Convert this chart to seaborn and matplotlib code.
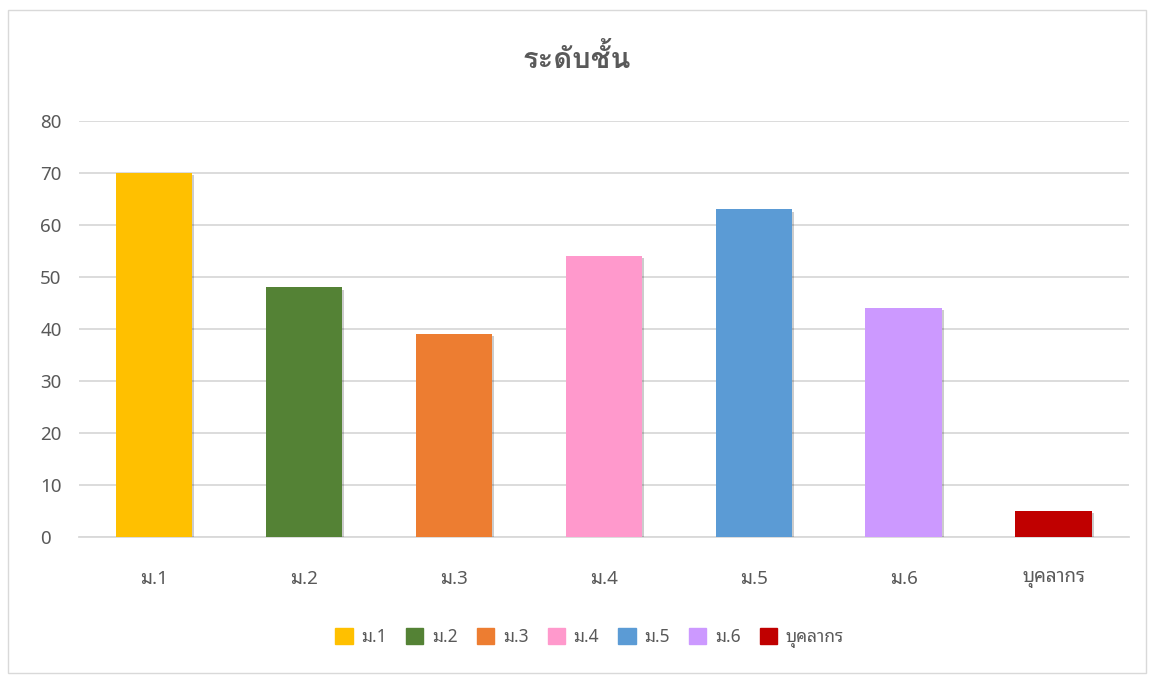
import matplotlib
matplotlib.use("Agg")
import matplotlib.pyplot as plt
import matplotlib.patches as mpatches
import matplotlib.patheffects as pe
import seaborn as sns
import pandas as pd

categories = ["ม.1", "ม.2", "ม.3", "ม.4", "ม.5", "ม.6", "บุคลากร"]
values = [70, 48, 39, 54, 63, 44, 5]
colors = ["#FFC000", "#548235", "#ED7D31", "#FF99CC", "#5B9BD5", "#CC99FF", "#C00000"]
yticks = [0, 10, 20, 30, 40, 50, 60, 70, 80]
title = "ระดับชั้น"

sns.set_theme(style="white")
plt.rcParams['font.family'] = ['Noto Sans', 'Noto Sans Thai Looped', 'DejaVu Sans']

df = pd.DataFrame({"cat": categories, "val": values})

fig = plt.figure(figsize=(11.54, 6.75), dpi=100)
ax = fig.add_axes([0.0685, 0.2044, 0.9095, 0.6163])

sns.barplot(data=df, x="cat", y="val", hue="cat", palette=colors, order=categories,
            hue_order=categories, width=0.51, dodge=False, legend=False, ax=ax,
            saturation=1, zorder=3, linewidth=0)
for p in ax.patches:
    p.set_linewidth(0)
    p.set_path_effects([pe.SimplePatchShadow(offset=(1.5, -1.5), alpha=0.2, shadow_rgbFace="#000000"), pe.Normal()])

ax.set_ylim(0, 80)
ax.set_xlim(-0.5, 6.5)
ax.set_yticks(yticks)
ax.yaxis.grid(True, color="#D9D9D9", lw=1.3, zorder=0)
ax.set_axisbelow(True)
for s in ["top", "right", "left"]:
    ax.spines[s].set_visible(False)
ax.spines["bottom"].set_color("#D9D9D9")
ax.spines["bottom"].set_linewidth(1.3)
ax.tick_params(axis="both", length=0, colors="#595959", labelsize=13.5)
ax.tick_params(axis="x", pad=24)
ax.tick_params(axis="y", pad=28)
for lab in ax.get_yticklabels():
    lab.set_horizontalalignment("left")
ax.set_xlabel("")
ax.set_ylabel("")

fig.text(0.5, 0.912, title, ha="center", va="center", fontsize=21, fontweight="bold", color="#595959",
         family=["Loma", "Noto Sans Thai", "DejaVu Sans"])

handles = [mpatches.Patch(color=c, label=l) for c, l in zip(colors, categories)]
fig.legend(handles=handles, loc="center", bbox_to_anchor=(0.511, 0.055), ncol=7, frameon=False,
           fontsize=12.5, labelcolor="#595959", handlelength=1.0, handleheight=1.0,
           handletextpad=0.5, columnspacing=1.1)

fig.patches.append(mpatches.Rectangle((8/1154, 2/675), 1138/1154, 663/675, transform=fig.transFigure,
                                      fill=False, edgecolor="#D9D9D9", lw=1))

fig.savefig("out.png", dpi=100)
